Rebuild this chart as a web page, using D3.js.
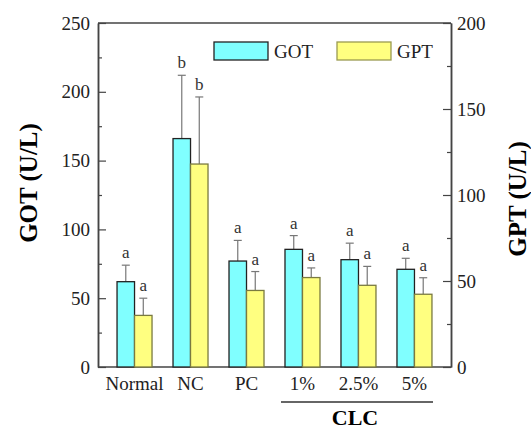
<!DOCTYPE html>
<html>
<head>
<meta charset="utf-8">
<script src="https://cdn.jsdelivr.net/npm/d3@7"></script>
<style>
  body { margin: 0; background: #fff; }
</style>
</head>
<body>
<div id="chart"></div>
<script>
// data
const groups = ["Normal", "NC", "PC", "1%", "2.5%", "5%"];
const gotMean = [62, 166, 77, 85.5, 78, 71];
const gotErr = [12, 46, 15, 10, 12, 8];
const gptMean = [30, 118, 44.5, 52, 47.5, 42.3];
const gptErr = [10, 39, 11, 5.6, 11, 9.6];
const gotSig = ["a", "b", "a", "a", "a", "a"];
const gptSig = ["a", "b", "a", "a", "a", "a"];
const leftTicks = [0, 50, 100, 150, 200, 250];
const rightTicks = [0, 50, 100, 150, 200];

const W = 531, H = 430;
const plotL = 98, plotR = 451, plotT = 23, plotB = 367;
const FONT = "'Liberation Serif', 'Times New Roman', Tinos, 'DejaVu Serif', serif";

const svg = d3.select("#chart").append("svg")
    .attr("width", W).attr("height", H)
    .style("font-family", FONT);

const x = d3.scaleBand().domain(groups).range([plotL, plotR])
    .paddingInner(0.375).paddingOuter(0.34);
const yL = d3.scaleLinear().domain([0, 250]).range([plotB, plotT]);
const yR = d3.scaleLinear().domain([0, 200]).range([plotB, plotT]);
const bw = x.bandwidth() / 2;

const axisColor = "#444";

// frame: top line
svg.append("line").attr("x1", plotL).attr("x2", plotR)
    .attr("y1", plotT).attr("y2", plotT)
    .attr("stroke", axisColor).attr("stroke-width", 1.5);

// left axis
const gL = svg.append("g").attr("transform", `translate(${plotL},0)`)
    .call(d3.axisLeft(yL).tickValues(leftTicks).tickSizeInner(-8).tickSizeOuter(0).tickPadding(8));
const gLm = svg.append("g").attr("transform", `translate(${plotL},0)`)
    .call(d3.axisLeft(yL).tickValues(d3.range(25, 250, 50)).tickSizeInner(-4).tickSizeOuter(0).tickFormat(""));

// right axis
const gR = svg.append("g").attr("transform", `translate(${plotR},0)`)
    .call(d3.axisRight(yR).tickValues(rightTicks).tickSizeInner(-8).tickSizeOuter(0).tickPadding(6));
const gRm = svg.append("g").attr("transform", `translate(${plotR},0)`)
    .call(d3.axisRight(yR).tickValues(d3.range(25, 200, 50)).tickSizeInner(-4).tickSizeOuter(0).tickFormat(""));

// bottom axis
const gB = svg.append("g").attr("transform", `translate(0,${plotB})`)
    .call(d3.axisBottom(x).tickSize(0).tickPadding(5));

[gL, gLm, gR, gRm, gB].forEach(g => {
    g.attr("font-family", null).style("font-family", FONT);
    g.select(".domain").attr("stroke", axisColor).attr("stroke-width", 1.5);
    g.selectAll(".tick line").attr("stroke", axisColor).attr("stroke-width", 1.2);
    g.selectAll("text").attr("font-size", 19).style("font-family", FONT).attr("fill", "#222");
});
gB.select(".domain").attr("d", `M${plotL},0H${plotR}`);
gB.selectAll("text").attr("dy", "0.95em");

// error bars + bars
const bars = svg.append("g");
function drawSeries(means, errs, sig, y, offset, fill, stroke) {
    const g = bars.append("g");
    groups.forEach((grp, i) => {
        const x0 = x(grp) + offset;
        const cx = x0 + bw / 2;
        const yt = y(means[i] + errs[i]);
        g.append("line").attr("x1", cx).attr("x2", cx)
            .attr("y1", y(means[i])).attr("y2", yt)
            .attr("stroke", "#777").attr("stroke-width", 1.2);
        g.append("line").attr("x1", cx - 4).attr("x2", cx + 4)
            .attr("y1", yt).attr("y2", yt)
            .attr("stroke", "#777").attr("stroke-width", 1.2);
        g.append("rect").attr("x", x0).attr("y", y(means[i]))
            .attr("width", bw).attr("height", plotB - y(means[i]))
            .attr("fill", fill).attr("stroke", stroke).attr("stroke-width", 1.3);
        g.append("text").attr("x", cx).attr("y", yt - 7)
            .attr("text-anchor", "middle").attr("font-size", 17).attr("fill", "#333")
            .text(sig[i]);
    });
}
drawSeries(gotMean, gotErr, gotSig, yL, 0, "#80ffff", "#222");
drawSeries(gptMean, gptErr, gptSig, yR, bw, "#ffff80", "#7a7a40");

// legend
const leg = svg.append("g");
leg.append("rect").attr("x", 214).attr("y", 42).attr("width", 54).attr("height", 18)
    .attr("fill", "#80ffff").attr("stroke", "#222").attr("stroke-width", 1.3);
leg.append("text").attr("x", 274).attr("y", 58).attr("font-size", 19).attr("fill", "#222").text("GOT");
leg.append("rect").attr("x", 337).attr("y", 42).attr("width", 54).attr("height", 18)
    .attr("fill", "#ffff80").attr("stroke", "#9a9a50").attr("stroke-width", 1.3);
leg.append("text").attr("x", 397).attr("y", 58).attr("font-size", 19).attr("fill", "#222").text("GPT");

// axis titles
svg.append("text").attr("transform", "translate(37,183) rotate(-90)")
    .attr("text-anchor", "middle").attr("font-size", 25).attr("font-weight", "bold")
    .text("GOT (U/L)");
svg.append("text").attr("transform", "translate(526,199) rotate(-90)")
    .attr("text-anchor", "middle").attr("font-size", 25).attr("font-weight", "bold")
    .text("GPT (U/L)");

// CLC bracket
svg.append("line").attr("x1", 281).attr("x2", 433).attr("y1", 402).attr("y2", 402)
    .attr("stroke", "#333").attr("stroke-width", 1.3);
svg.append("text").attr("x", 355).attr("y", 425).attr("text-anchor", "middle")
    .attr("font-size", 22).attr("font-weight", "bold").text("CLC");
</script>
</body>
</html>
